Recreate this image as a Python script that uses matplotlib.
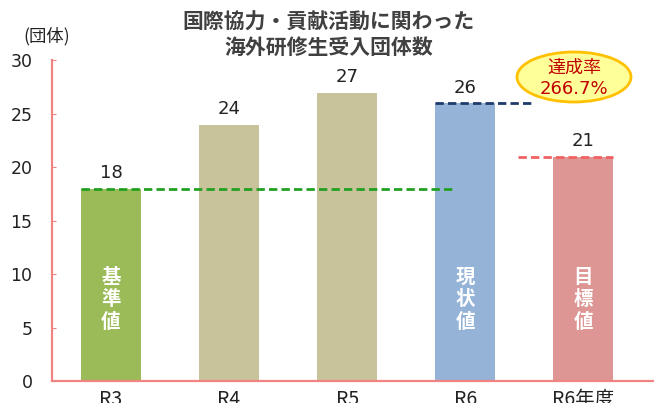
import matplotlib.pyplot as plt
from matplotlib.patches import Ellipse

plt.rcParams['font.family'] = ['Noto Sans CJK JP', 'DejaVu Sans']
num_font = ['DejaVu Sans', 'Noto Sans CJK JP']

categories = ['R3', 'R4', 'R5', 'R6', 'R6年度']
values = [18, 24, 27, 26, 21]
bar_colors = ['#9BBB59', '#C9C39B', '#C9C39B', '#95B3D7', '#DD9694']
inner_labels = ['基準値', '', '', '現状値', '目標値']
rate_text = '266.7%'

fig = plt.figure(figsize=(6.54, 4.03), dpi=100)
ax = fig.add_axes([0.0795, 0.0546, 0.9205, 0.7953])

x = range(len(categories))
width = 0.51
ax.bar(x, values, width=width, color=bar_colors, zorder=2)

# value labels above bars
for i, v in enumerate(values):
    ax.annotate(str(v), (i, v), xytext=(0, 11), textcoords='offset points',
                ha='center', va='center', fontsize=13, color='#222222',
                family=num_font)

# vertical labels inside bars
for i, lab in enumerate(inner_labels):
    if lab:
        ax.text(i, 7.6, '\n'.join(lab), ha='center', va='center',
                fontsize=14, color='white', fontweight='bold', linespacing=1.25,
                zorder=3)

# reference lines: baseline, current and target
half = width / 2
ax.hlines(values[0], 0 - half, 2.92, colors='#22A022', linewidth=2,
          linestyles=(0, (3, 1.5)), zorder=3)
ax.hlines(values[3], 3 - half, 3.59, colors='#1F3A6B', linewidth=2,
          linestyles=(0, (3, 1.5)), zorder=3)
ax.hlines(values[4], 3.45, 4 + half, colors='#F06262', linewidth=2,
          linestyles=(0, (3, 1.5)), zorder=3)

ax.set_xlim(-0.5, 4.6)
ax.set_ylim(0, 30)
ax.set_yticks(range(0, 31, 5))
ax.set_xticks(list(x))
ax.set_xticklabels(categories)
for lbl in ax.get_yticklabels():
    lbl.set_family(num_font)

axis_color = '#F08482'
for side in ['top', 'right']:
    ax.spines[side].set_visible(False)
for side in ['left', 'bottom']:
    ax.spines[side].set_color(axis_color)
    ax.spines[side].set_linewidth(1.6)
ax.tick_params(axis='y', direction='in', length=3, color=axis_color,
               labelsize=12.5, labelcolor='#222222', pad=14)
ax.tick_params(axis='x', length=0, labelsize=14, labelcolor='#222222', pad=6)

fig.text(0.072, 0.911, '(団体)', ha='center', va='center', fontsize=12.5,
         color='#222222')
fig.text(0.503, 0.913, '国際協力・貢献活動に関わった\n海外研修生受入団体数',
         ha='center', va='center', fontsize=15, fontweight='bold',
         color='#404040', linespacing=1.25)

# achievement rate badge
badge = Ellipse((574 / 654, 1 - 77 / 403), 114 / 654, 50 / 403,
                transform=fig.transFigure, facecolor='#FFFF99',
                edgecolor='#FFC000', linewidth=2, zorder=5)
fig.add_artist(badge)
fig.text(574 / 654, 1 - 68 / 403, '達成率', ha='center', va='center',
         fontsize=13, color='#C00000', zorder=6)
fig.text(574 / 654, 1 - 89 / 403, rate_text, ha='center', va='center',
         fontsize=13, color='#C00000', zorder=6, family=num_font)

fig.savefig('out.png', dpi=100)
